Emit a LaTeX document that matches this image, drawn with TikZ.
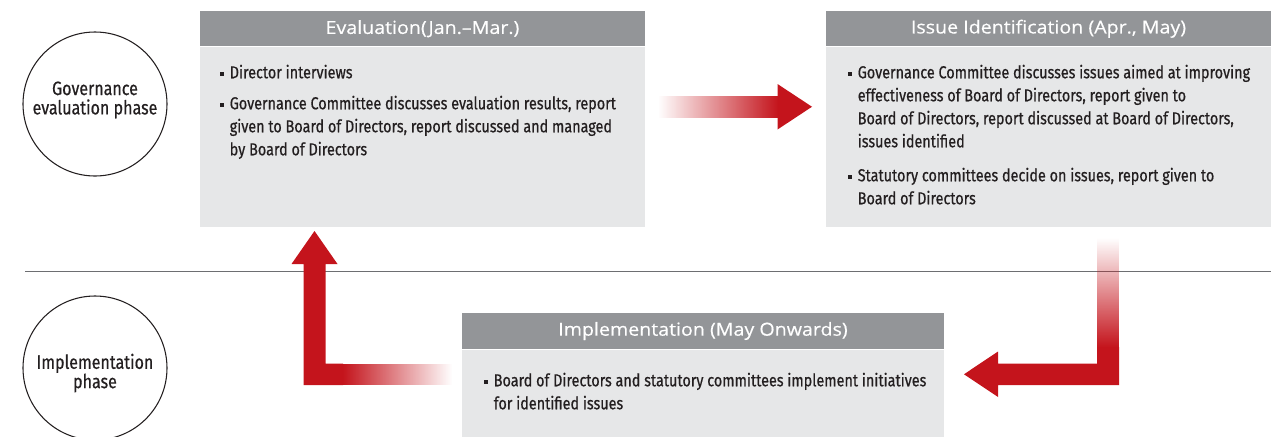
\documentclass[tikz,border=0pt]{standalone}
\usepackage{fontspec}
\setmainfont[FakeStretch=1.09, FakeBold=0.4]{Open Sans}
\newfontfamily\condfont[FakeStretch=0.83, FakeBold=0.6]{Fira Sans}
\usetikzlibrary{calc,fadings}

\definecolor{arrowred}{HTML}{C4141C}
\definecolor{headgray}{HTML}{939598}
\definecolor{bodygray}{HTML}{E6E7E8}
\definecolor{rulegray}{HTML}{6D6E71}
\definecolor{inkdark}{HTML}{231F20}

\tikzfading[name=fadeleft, left color=transparent!100, right color=transparent!0]
\tikzfading[name=faderight, left color=transparent!0, right color=transparent!100]
\tikzfading[name=fadetop, top color=transparent!100, bottom color=transparent!0]

\newcommand{\bul}{\makebox[7.5pt][l]{\raisebox{1.9pt}{\rule{3pt}{3pt}}}}
\newcommand{\ind}{\hspace*{7.5pt}}

\tikzset{
  phase/.style={draw=inkdark, line width=0.8pt, circle, minimum size=108pt, inner sep=0pt},
  phasetext/.style={align=center, inner sep=0pt, text=inkdark,
    font=\condfont\fontsize{14.5}{14.5}\selectfont},
  head/.style={fill=headgray, text=white, inner sep=0pt,
    font=\fontsize{13.5}{15}\selectfont},
  body/.style={fill=bodygray, inner sep=0pt, anchor=north},
  items/.style={anchor=north west, align=left, inner sep=0pt, text=inkdark,
    font=\condfont\fontsize{13}{17.25}\selectfont},
}

\begin{document}
\begin{tikzpicture}[x=0.75pt, y=-0.75pt]
    \useasboundingbox (0,0) rectangle (1281,436);

    % phases
    \node[phase] (gov) at (95,104) {};
    \node[phasetext] (govtext) at (95,100) {Governance\\evaluation phase};
    \node[phase] (imp) at (95,368) {};
    \node[phasetext] (imptext0) at (95,373) {Implementation\\phase};
    \draw[rulegray, line width=1pt] (25,271.5) -- (1271,271.5);

    % evaluation
    \node[head, minimum width=333.75pt, minimum height=26.6pt] (evalhead) at (422.5,28.75) {Evaluation(Jan.–Mar.)};
    \node[body, minimum width=333.75pt, minimum height=135pt] (evalbody) at (evalhead.south) {};
    \node[items] (evaltext) at (219.5,64.5) {\bul Director interviews\\[6pt]
        \bul Governance Committee discusses evaluation results, report\\
        \ind given to Board of Directors, report discussed and managed\\
        \ind by Board of Directors};

    % issue identification
    \node[head, minimum width=333.75pt, minimum height=26.6pt] (isshead) at (1048.5,28.75) {Issue Identification (Apr., May)};
    \node[body, minimum width=333.75pt, minimum height=135pt] (issbody) at (isshead.south) {};
    \node[items] (isstext) at (847.5,64.5) {\bul Governance Committee discusses issues aimed at improving\\
        \ind effectiveness of Board of Directors, report given to\\
        \ind Board of Directors, report discussed at Board of Directors,\\
        \ind issues identified\\[8.25pt]
        \bul Statutory committees decide on issues, report given to\\
        \ind Board of Directors};

    % implementation
    \node[head, minimum width=361.5pt, minimum height=27pt] (imphead) at (703,331) {Implementation (May Onwards)};
    \node[body, minimum width=361.5pt, minimum height=70pt] (impbody) at (imphead.south) {};
    \node[items] (imptext) at (483.5,372.5) {\bul Board of Directors and statutory committees implement initiatives\\
        \ind for identified issues};

    % arrows
    \coordinate (r0) at (658,106.75);
    \coordinate (r1) at (812,106.75);
    \fill[arrowred, path fading=fadeleft] ($(r0)+(0,-10.75)$) rectangle ($(r1)+(-34,10.75)$);
    \fill[arrowred] ($(r1)+(-34.5,-22.75)$) -- (r1) -- ($(r1)+(-34.5,22.75)$) -- cycle;

    \coordinate (u0) at (452,374.25);
    \coordinate (u1) at (314.5,231);
    \fill[arrowred, path fading=faderight] ($(u0)+(-109,-10.75)$) rectangle ($(u0)+(0,10.75)$);
    \fill[arrowred] ($(u0)+(-109,10.75)$) -- ($(u1)+(-11,154)$) -- ($(u1)+(-11,33)$)
        -- ($(u1)+(-23,33)$) -- (u1) -- ($(u1)+(23,33)$) -- ($(u1)+(11,33)$)
        -- ($(u1)+(11,132.5)$) -- ($(u0)+(-109,-10.75)$) -- cycle;

    \coordinate (d0) at (1108,238);
    \coordinate (d1) at (964,374.25);
    \fill[arrowred, path fading=fadetop] ($(d0)+(-11,0)$) rectangle ($(d0)+(11,109)$);
    \fill[arrowred] ($(d0)+(-11,109)$) -- ($(d0)+(11,109)$) -- ($(d0)+(11,147)$)
        -- ($(d1)+(34,10.75)$) -- ($(d1)+(34,22.75)$) -- (d1) -- ($(d1)+(34,-22.75)$)
        -- ($(d1)+(34,-10.75)$) -- ($(d0)+(-11,125.5)$) -- cycle;
\end{tikzpicture}
\end{document}
